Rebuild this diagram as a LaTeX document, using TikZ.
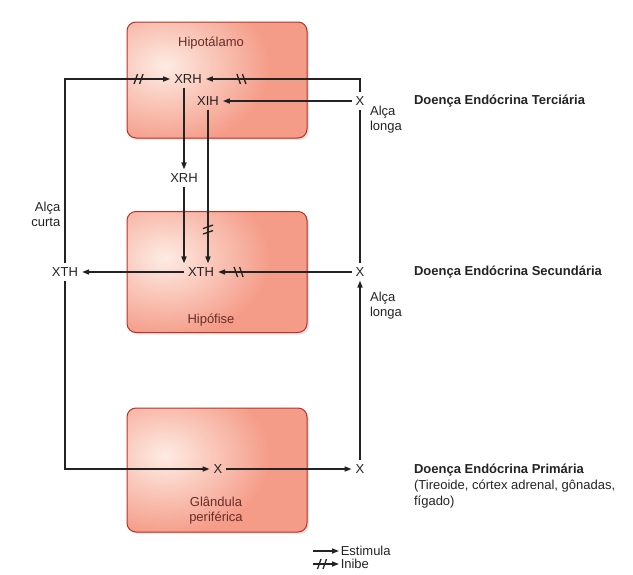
\documentclass[tikz,border=0pt]{standalone}
\usepackage{fontspec}
\setmainfont{Liberation Sans}
\usetikzlibrary{arrows.meta,decorations.markings,shadows,fadings}
\definecolor{glandred}{RGB}{234,96,84}
\definecolor{glandmid}{RGB}{245,156,136}
\definecolor{glandmidb}{RGB}{240,128,110}
\definecolor{glandhi}{RGB}{254,236,228}
\definecolor{glandedge}{RGB}{185,50,40}
\definecolor{inkgray}{RGB}{35,35,35}
\definecolor{glandtext}{RGB}{105,45,40}
\pgfdeclareradialshading{glandshade}{\pgfpoint{0bp}{0bp}}{%
  color(0bp)=(glandmid); color(16bp)=(glandmid); color(21bp)=(glandmidb);
  color(25bp)=(glandred); color(50bp)=(glandred)}
\tikzfading[name=glow, inner color=transparent!0, outer color=transparent!100]

\begin{document}
\begin{tikzpicture}[x=1pt, y=-1pt, line width=1.5pt, color=inkgray,
    every node/.append style={font=\fontsize{13}{15}\selectfont, text=inkgray},
    stim/.style={-{Triangle[length=7pt,width=5pt]}},
    slash/.style={line width=1.3pt},
    inhibit/.style={postaction={decorate,decoration={markings,
        mark=at position #1 with {\draw[-,slash] (-4.5,5) -- (-1,-5) (1,5) -- (4.5,-5);}}}},
    inhibitr/.style={postaction={decorate,decoration={markings,
        mark=at position #1 with {\draw[-,slash] (-4.5,-5) -- (-1,5) (1,-5) -- (4.5,5);}}}},
    disease/.style={anchor=west, font=\fontsize{13}{16}\selectfont\bfseries},
    gland/.style={draw=glandedge, line width=1pt, rounded corners=9pt,
        minimum width=180pt, minimum height=#1, fill=glandred,
        drop shadow={opacity=0.22, shadow xshift=2pt, shadow yshift=-2pt},
        path picture={
          \shade[shading=glandshade] (path picture bounding box.center) ellipse (192pt and 126pt);
          \fill[glandhi, path fading=glow]
            ([xshift=-52pt,yshift=14pt]path picture bounding box.center) ellipse (105pt and 80pt);}},
    glandlabel/.style={text=glandtext, align=center}]
  \useasboundingbox (0,0) rectangle (633,574);

  % glands
  \node[gland=116pt] (hipot) at (217,80) {};
  \node[gland=121pt] (hipof) at (217,272) {};
  \node[gland=124pt] (perif) at (217,470) {};
  \node[glandlabel] (hipotname) at (211,43) {Hipotálamo};
  \node[glandlabel] (hipofname) at (211,320) {Hipófise};
  \node[glandlabel] (perifname) at (216,511) {Glândula\\periférica};

  % hormones
  \node (xrh) at (188,79) {XRH};
  \node (xih) at (208,101) {XIH};
  \node (xrhm) at (184,178) {XRH};
  \node (xth) at (201,272) {XTH};
  \node (xthl) at (65,272) {XTH};
  \node (xg) at (218,469) {X};
  \node (x3) at (360,101) {X};
  \node (x2) at (360,272) {X};
  \node (x1) at (360,469) {X};
  \coordinate (tl) at (65,79);
  \coordinate (tr) at (360,79);
  \coordinate (bl) at (65,469);

  % connectors
  \draw[stim] (xrh.south -| xrhm) -- (xrhm.north);
  \draw[stim] (xrhm.south) -- (xrhm.south |- xth.north);
  \draw[stim,inhibitr=120pt] (xih.south) -- (xih.south |- xth.north);
  \draw[stim] (xth.west) -- (xthl.east);
  \draw[stim,inhibit=258pt] (xthl.north) -- (tl) -- (xrh.west);
  \draw[stim] (xthl.south) -- (bl) -- (xg.west);
  \draw[stim] (xg.east) -- (x1.west);
  \draw[stim] (x1.north) -- (x2.south);
  \draw (x2.north) -- (x3.south);
  \draw[stim] (x3.west) -- (xih.east);
  \draw[stim,inhibitr=132pt] (x3.north) -- (tr) -- (xrh.east);
  \draw[stim,inhibitr=113pt] (x2.west) -- (xth.east);

  % loops
  \node[align=right, anchor=east, inner sep=1pt] (curta) at (62,214) {Alça\\curta};
  \node[align=left, anchor=west] (longa3) at (366,120) {Alça\\longa};
  \node[align=left, anchor=west] (longa2) at (366,306) {Alça\\longa};

  % diseases
  \node[disease] (terc) at (410,101) {Doença Endócrina Terciária};
  \node[disease] (secu) at (410,272) {Doença Endócrina Secundária};
  \node[disease, anchor=north west, align=left] (prim) at (410,460)
    {Doença Endócrina Primária\\\mdseries(Tireoide, córtex adrenal, gônadas,\\\mdseries fígado)};

  % legend
  \coordinate (est0) at (313,551);
  \coordinate (inb0) at (313,564);
  \node[anchor=west, inner sep=1pt] (est) at (339,551) {Estimula};
  \node[anchor=west, inner sep=1pt] (inb) at (339,564) {Inibe};
  \draw[stim] (est0) -- (est.west);
  \draw[stim,inhibit=9pt] (inb0) -- (inb.west);
\end{tikzpicture}
\end{document}
